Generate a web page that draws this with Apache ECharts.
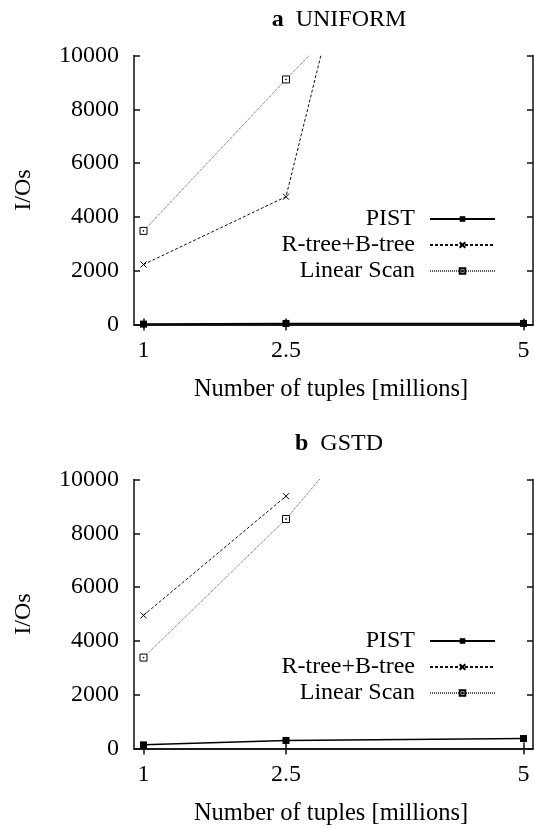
<!DOCTYPE html>
<html>
<head>
<meta charset="utf-8">
<script src="https://cdn.jsdelivr.net/npm/echarts@6/dist/echarts.min.js"></script>
<style>
  html, body { margin: 0; padding: 0; background: #fff; }
  #chart { width: 534px; height: 828px; }
</style>
</head>
<body>
<div id="chart"></div>
<script>
// tuples in millions
const tuples = [1, 2.5, 5];
const seriesNames = ['PIST', 'R-tree+B-tree', 'Linear Scan'];

// a UNIFORM
const uniformPist = [15, 40, 40];
const uniformRtree = [2230, 4750, 40500];
const uniformScan = [3480, 9110, 18200];

// b GSTD
const gstdPist = [135, 300, 370];
const gstdRtree = [4950, 9380, null];
const gstdScan = [3380, 8530, 19000];

const FONT = '"Liberation Serif", serif';
const chart = echarts.init(document.getElementById('chart'));

const pairs = (vals) => tuples.map((x, i) => [x, vals[i]]);

const grids = [
  { left: 134, top: 55.5, width: 399, height: 269 },
  { left: 134, top: 479.5, width: 399, height: 269 }
];

const axisLine = { show: true, lineStyle: { color: '#111', width: 1.5 } };
const tick = { show: true, inside: true, length: 6, lineStyle: { color: '#111', width: 1.5 } };

function xAxes(g) {
  return [
    {
      type: 'value', gridIndex: g, position: 'bottom', min: 0.9, max: 5.1,
      axisLine: axisLine,
      axisTick: Object.assign({ customValues: tuples }, tick),
      axisLabel: { customValues: tuples, fontFamily: FONT, fontSize: 24, color: '#000', margin: 14 },
      splitLine: { show: false },
      name: 'Number of tuples [millions]', nameLocation: 'middle', nameGap: 53,
      nameTextStyle: { fontFamily: FONT, fontSize: 24.5, color: '#000', padding: [0, 5, 0, 0] }
    },
    {
      type: 'value', gridIndex: g, position: 'top', min: 0.9, max: 5.1,
      axisLine: axisLine,
      axisTick: Object.assign({ customValues: tuples }, tick),
      axisLabel: { show: false },
      splitLine: { show: false }
    }
  ];
}

function yAxes(g) {
  return [
    {
      type: 'value', gridIndex: g, position: 'left', min: 0, max: 10000, interval: 2000,
      axisLine: axisLine, axisTick: tick,
      axisLabel: {
        fontFamily: FONT, fontSize: 24, color: '#000', margin: 15,
        formatter: (v) => String(v)
      },
      splitLine: { show: false },
      name: 'I/Os', nameLocation: 'middle', nameGap: 98,
      nameTextStyle: { fontFamily: FONT, fontSize: 24, color: '#000' }
    },
    {
      type: 'value', gridIndex: g, position: 'right', min: 0, max: 10000, interval: 2000,
      axisLine: axisLine, axisTick: tick,
      axisLabel: { show: false },
      splitLine: { show: false }
    }
  ];
}

function makeSeries(g, pist, rtree, scan) {
  const xi = g * 2, yi = g * 2;
  return [
    {
      name: 'PIST', type: 'line', xAxisIndex: xi, yAxisIndex: yi,
      data: pairs(pist),
      symbol: 'rect', symbolSize: 7,
      itemStyle: { color: '#000' },
      lineStyle: { color: '#000', width: 1.5 },
      z: 5
    },
    {
      name: 'R-tree+B-tree', type: 'line', xAxisIndex: xi, yAxisIndex: yi,
      data: pairs(rtree),
      symbol: 'path://M0,0L10,10M10,0L0,10', symbolSize: 6,
      itemStyle: { color: '#000', borderColor: '#000', borderWidth: 1 },
      lineStyle: { color: '#111', width: 1, type: [3, 2] }
    },
    {
      name: 'Linear Scan', type: 'line', xAxisIndex: xi, yAxisIndex: yi,
      data: pairs(scan),
      symbol: 'path://M0,0H10V10H0ZM4.5,4.5H5.5V5.5H4.5Z', symbolSize: 7,
      itemStyle: { color: '#fff', borderColor: '#000', borderWidth: 1 },
      lineStyle: { color: '#555', width: 1, type: [1, 1] }
    }
  ];
}

function makeLegend(top) {
  return {
    data: seriesNames, orient: 'vertical', align: 'right',
    right: 33, top: top, itemWidth: 65, itemHeight: 7, itemGap: 2,
    selectedMode: false,
    textStyle: { fontFamily: FONT, fontSize: 24, color: '#000', padding: [0, 10, 0, 0] }
  };
}

function makeTitle(letter, label, top) {
  return {
    text: '{b|' + letter + '}  ' + label,
    left: 334, top: top, textAlign: 'center',
    textStyle: {
      fontFamily: FONT, fontSize: 24, fontWeight: 'normal', color: '#000',
      rich: { b: { fontFamily: FONT, fontSize: 24, fontWeight: 'bold', color: '#000' } }
    }
  };
}

const option = {
  backgroundColor: '#fff',
  animation: false,
  title: [makeTitle('a', 'UNIFORM', 3), makeTitle('b', 'GSTD', 427)],
  legend: [makeLegend(202), makeLegend(624)],
  grid: grids,
  xAxis: xAxes(0).concat(xAxes(1)),
  yAxis: yAxes(0).concat(yAxes(1)),
  series: makeSeries(0, uniformPist, uniformRtree, uniformScan)
    .concat(makeSeries(1, gstdPist, gstdRtree, gstdScan))
};

chart.setOption(option);
</script>
</body>
</html>
